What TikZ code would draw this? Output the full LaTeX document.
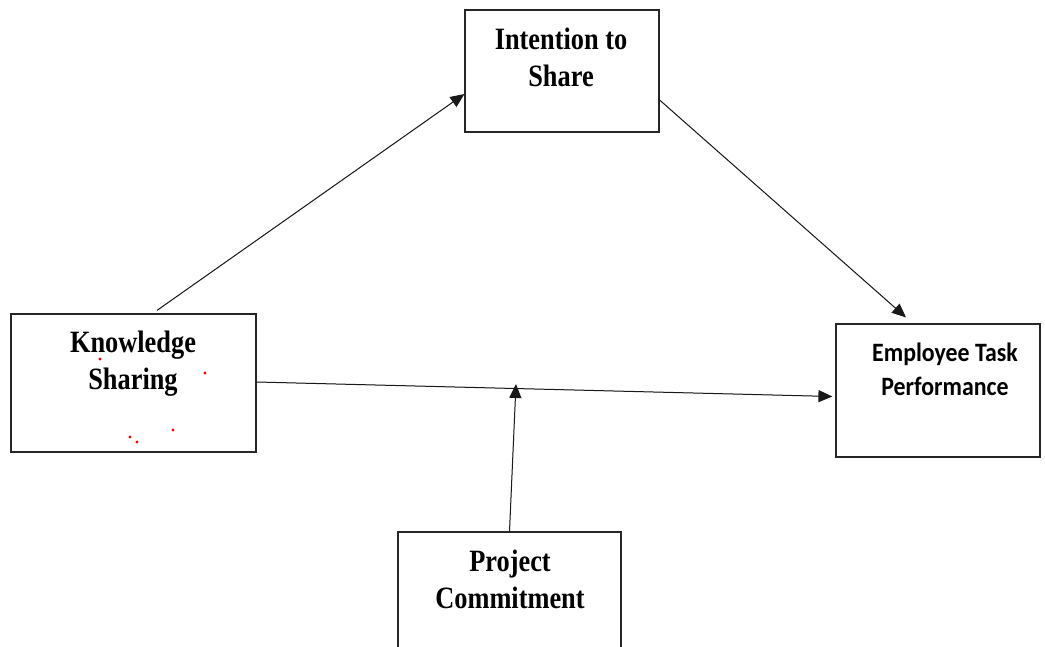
\documentclass[tikz,border=0pt]{standalone}
\usepackage{fontspec}
\newfontfamily\serb[FakeStretch=0.85]{Liberation Serif}
\newfontfamily\sanb[FakeStretch=0.9]{Carlito}
\usetikzlibrary{arrows.meta}
\begin{document}
\begin{tikzpicture}[x=1pt,y=-1pt,
  box/.style={draw=black!85, line width=1.2pt, rectangle, inner sep=0pt},
  lab/.style={inner sep=0pt, anchor=north, align=center},
  serlab/.style={lab, font=\serb\bfseries\fontsize{31}{37}\selectfont},
  arr/.style={-{Triangle[length=14pt,width=12pt]}, line width=1pt, draw=black!90, fill=black}]
\clip (0,0) rectangle (1045,646);
\fill[white] (0,0) rectangle (1045,646);
% boxes
\node[box, minimum width=194pt, minimum height=122pt] (int) at (562,71) {};
\node[box, minimum width=245pt, minimum height=138pt] (ks) at (133.5,383) {};
\node[box, minimum width=204pt, minimum height=133pt] (etp) at (938,390.5) {};
\node[box, minimum width=223pt, minimum height=148pt] (pc) at (509.5,606) {};
% labels
\node[serlab] (intl) at (561,28) {Intention to\\Share};
\node[serlab] (ksl) at (133,331) {Knowledge\\Sharing};
\node[serlab] (pcl) at (510,550) {Project\\Commitment};
\node[lab, font=\sanb\bfseries\fontsize{26.5}{34}\selectfont] (etpl) at (945,343) {Employee Task\\Performance};
% arrows
\draw[arr] ([xshift=23.5pt,yshift=3pt]ks.north) -- ([yshift=-23pt]int.west);
\draw[arr] ([yshift=-29pt]int.east) -- ([xshift=-32pt,yshift=6pt]etp.north);
\draw[arr] ([yshift=1pt]ks.east) -- ([xshift=-3pt,yshift=-6pt]etp.west);
\coordinate (m) at (516,384);
\draw[arr] (pc.north) -- (m);
% red specks
\fill[red] (100,359) circle (1.6pt);
\fill[red] (205,373) circle (1.6pt);
\fill[red] (130,437) circle (1.6pt);
\fill[red] (137,442) circle (1.6pt);
\fill[red] (173,430) circle (1.6pt);
\end{tikzpicture}
\end{document}
